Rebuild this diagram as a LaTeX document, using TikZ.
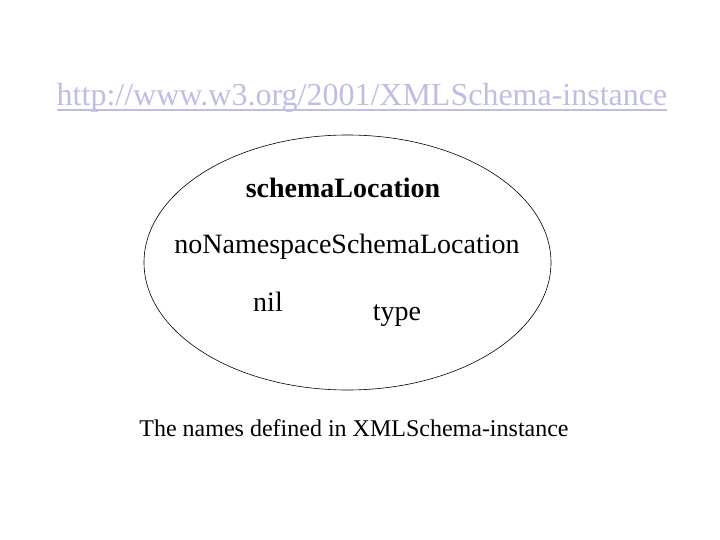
\documentclass[tikz,border=0pt]{standalone}
\usepackage{fontspec}
\setmainfont{Liberation Serif}
\usetikzlibrary{shapes.geometric}
\definecolor{urlcol}{RGB}{190,190,228}
\begin{document}
\begin{tikzpicture}[x=1pt,y=-1pt,
  lbl/.style={inner sep=0pt,anchor=base,font=\fontsize{28}{30}\selectfont}]
\useasboundingbox (0,0) rectangle (720,540);
\node[inner sep=0pt,anchor=base,font=\fontsize{32}{34}\selectfont,text=urlcol] (url) at (362,106) {http://www.w3.org/2001/XMLSchema-instance};
\coordinate (ul) at ([yshift=-4pt]url.base west);
\coordinate (ur) at ([yshift=-4pt]url.base east);
\draw[urlcol,line width=1.3pt] (ul) -- (ur);
\node[draw,ellipse,minimum width=407pt,minimum height=255pt,inner sep=0pt,line width=0.6pt] (ell) at (347.5,262.5) {};
\node[lbl,font=\bfseries\fontsize{28}{30}\selectfont] (sl) at (343,198) {schemaLocation};
\node[lbl] (nn) at (347,253) {noNamespaceSchemaLocation};
\node[lbl] (nil) at (268,311) {nil};
\node[lbl] (type) at (397,320) {type};
\node[inner sep=0pt,anchor=base,font=\fontsize{24}{26}\selectfont] (cap) at (354,436) {The names defined in XMLSchema-instance};
\end{tikzpicture}
\end{document}
